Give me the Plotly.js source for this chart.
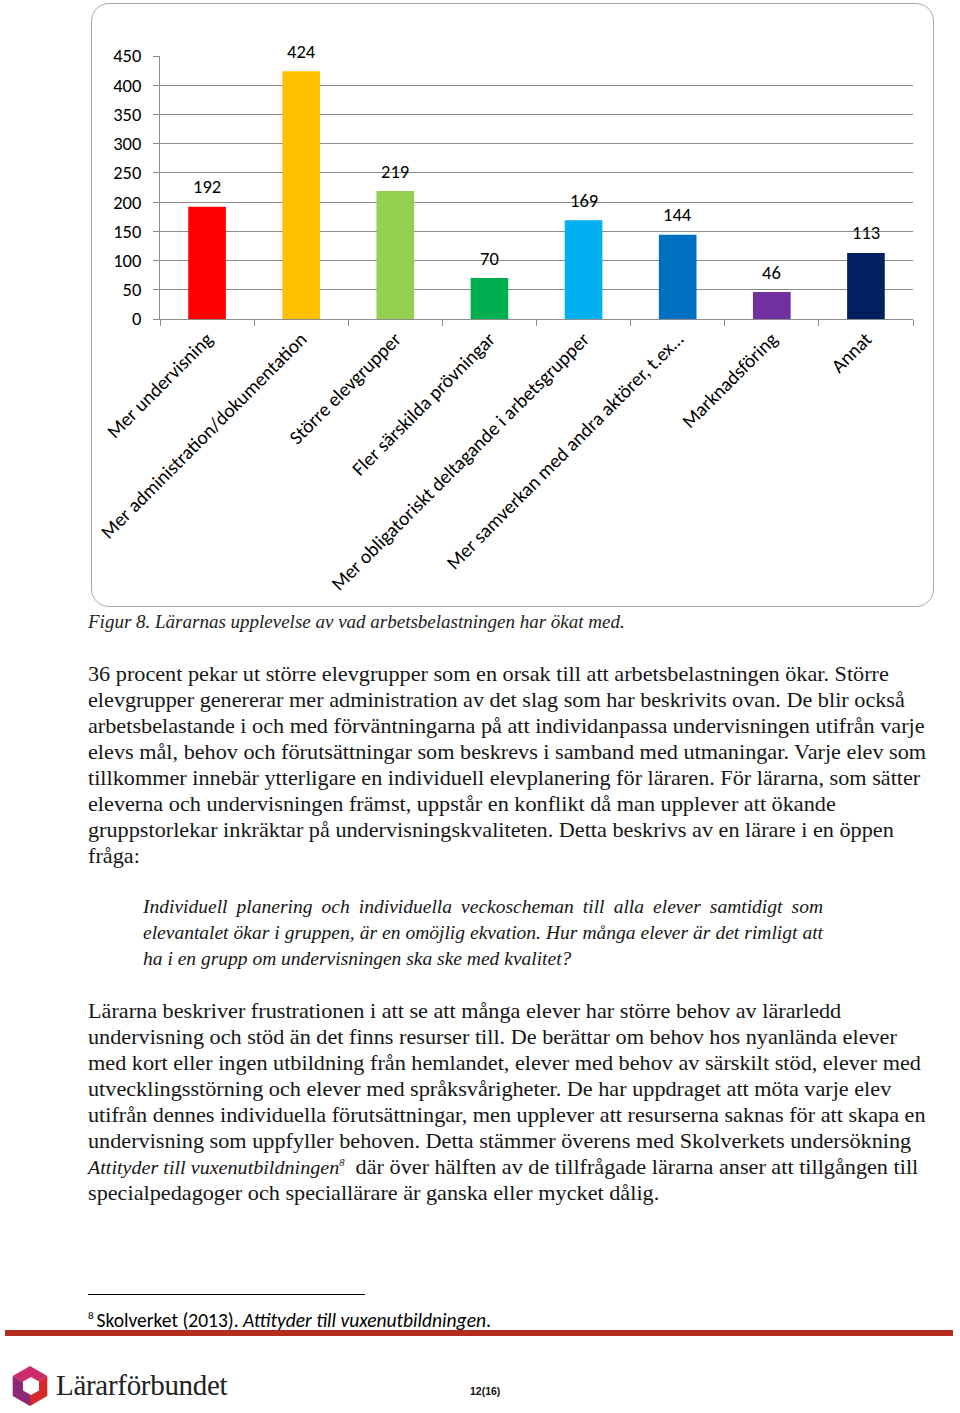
<!DOCTYPE html>
<html><head><meta charset="utf-8">
<script src="https://cdn.plot.ly/plotly-3.0.1.min.js"></script>
<style>
body{margin:0;width:960px;height:1413px;position:relative;background:#fff;overflow:hidden;}
#frame{position:absolute;left:91px;top:3px;width:841px;height:602px;border:1.6px solid #a8a8a8;border-radius:18px;}
#chart{position:absolute;left:91px;top:3px;width:844px;height:605px;}
.p{position:absolute;left:88px;font-family:"Liberation Serif",serif;font-size:21px;line-height:26px;color:#161616;white-space:nowrap;transform:scaleX(1.058);transform-origin:0 0;}
.p div{height:26px;overflow:visible;}
.cap{position:absolute;left:88px;top:609px;font-family:"Liberation Serif",serif;font-style:italic;font-size:19px;line-height:26px;color:#222;white-space:nowrap;}
.q{position:absolute;left:143px;top:894px;width:680px;font-family:"Liberation Serif",serif;font-style:italic;font-size:19.5px;line-height:26px;color:#161616;}
.q div{text-align:justify;text-align-last:justify;white-space:nowrap;}
.q div.last{text-align-last:left;}
#sep{position:absolute;left:88px;top:1294px;width:277px;height:1px;background:#000;}
#fn{position:absolute;left:88px;top:1309px;font-family:Carlito,Lato,sans-serif;font-size:19.5px;line-height:22px;color:#000;white-space:nowrap;}
#fn sup{font-size:11px;line-height:0;vertical-align:baseline;position:relative;top:-8px;margin-right:3px;}
#red{position:absolute;left:5px;top:1330px;width:948px;height:6px;background:#b52d20;}
#logotext{position:absolute;left:56px;top:1367px;font-family:"Liberation Serif",serif;font-size:29px;line-height:36px;color:#222;letter-spacing:-0.3px;}
#pg{position:absolute;left:470px;top:1385px;font-family:"Liberation Sans",Arial,sans-serif;font-weight:bold;font-size:10.5px;color:#111;}
</style></head>
<body>
<div id="frame"></div>
<div id="chart"></div>
<div class="cap">Figur 8. Lärarnas upplevelse av vad arbetsbelastningen har ökat med.</div>
<div class="p" style="top:661px">
<div>36 procent pekar ut större elevgrupper som en orsak till att arbetsbelastningen ökar. Större</div>
<div>elevgrupper genererar mer administration av det slag som har beskrivits ovan. De blir också</div>
<div>arbetsbelastande i och med förväntningarna på att individanpassa undervisningen utifrån varje</div>
<div>elevs mål, behov och förutsättningar som beskrevs i samband med utmaningar. Varje elev som</div>
<div>tillkommer innebär ytterligare en individuell elevplanering för läraren. För lärarna, som sätter</div>
<div>eleverna och undervisningen främst, uppstår en konflikt då man upplever att ökande</div>
<div>gruppstorlekar inkräktar på undervisningskvaliteten. Detta beskrivs av en lärare i en öppen</div>
<div>fråga:</div>
</div>
<div class="q">
<div>Individuell planering och individuella veckoscheman till alla elever samtidigt som</div>
<div>elevantalet ökar i gruppen, är en omöjlig ekvation. Hur många elever är det rimligt att</div>
<div class="last">ha i en grupp om undervisningen ska ske med kvalitet?</div>
</div>
<div class="p" style="top:998px">
<div>Lärarna beskriver frustrationen i att se att många elever har större behov av lärarledd</div>
<div>undervisning och stöd än det finns resurser till. De berättar om behov hos nyanlända elever</div>
<div>med kort eller ingen utbildning från hemlandet, elever med behov av särskilt stöd, elever med</div>
<div>utvecklingsstörning och elever med språksvårigheter. De har uppdraget att möta varje elev</div>
<div>utifrån dennes individuella förutsättningar, men upplever att resurserna saknas för att skapa en</div>
<div>undervisning som uppfyller behoven. Detta stämmer överens med Skolverkets undersökning</div>
<div><i style="font-size:19px">Attityder till vuxenutbildningen</i><span style="font-size:10px;line-height:0;font-style:italic;position:relative;top:-8px">8</span>&nbsp; där över hälften av de tillfrågade lärarna anser att tillgången till</div>
<div>specialpedagoger och speciallärare är ganska eller mycket dålig.</div>
</div>
<div id="sep"></div>
<div id="fn"><sup>8</sup>Skolverket (2013). <i>Attityder till vuxenutbildningen</i>.</div>
<div id="red"></div>
<svg style="position:absolute;left:0;top:1355px" width="60" height="58" viewBox="0 0 60 58">
  <polygon points="12.7,21 30,11 47.3,21 30,31" fill="#cf2a6c"/>
  <polygon points="47.3,21 47.3,41 30,51 30,31" fill="#d42a2e"/>
  <polygon points="12.7,21 30,31 30,51 12.7,41" fill="#8c2876"/>
  <polygon points="31,22 39,26.5 39,35.5 31,40 23,35.5 23,26.5" fill="#fff"/>
</svg>
<div id="logotext">Lärarförbundet</div>
<div id="pg">12(16)</div>
<script>
const categories = [
  "Mer undervisning",
  "Mer administration/dokumentation",
  "Större elevgrupper",
  "Fler särskilda prövningar",
  "Mer obligatoriskt deltagande i arbetsgrupper",
  "Mer samverkan med andra aktörer, t.ex…",
  "Marknadsföring",
  "Annat"
];
const values = [192, 424, 219, 70, 169, 144, 46, 113];
const barColors = ["#ff0000", "#ffc000", "#92d050", "#00b050", "#00b0f0", "#0070c0", "#7030a0", "#002060"];
const yTickVals = [0, 50, 100, 150, 200, 250, 300, 350, 400, 450];

const font = "Carlito, Lato, sans-serif";
const trace = {
  type: "bar",
  x: categories,
  y: values,
  marker: {color: barColors, line: {width: 0}},
  hoverinfo: "skip"
};
const annotations = categories.map((c, i) => ({
  x: c, y: values[i], xref: "x", yref: "y",
  text: String(values[i]), showarrow: false,
  yanchor: "middle", yshift: 20,
  font: {family: font, size: 18.5, color: "#000"}
}));
const layout = {
  width: 844, height: 605,
  margin: {l: 69, r: 22, t: 53, b: 289},
  paper_bgcolor: "rgba(0,0,0,0)", plot_bgcolor: "rgba(0,0,0,0)",
  showlegend: false,
  bargap: 0.6,
  xaxis: {
    type: "category", showgrid: false, showline: true, linecolor: "#8c8c8c", linewidth: 1,
    ticks: "outside", tickson: "boundaries", ticklen: 6, tickcolor: "#8c8c8c",
    tickangle: -45, tickfont: {family: font, size: 19.5, color: "#000"}, automargin: false
  },
  yaxis: {
    range: [0, 450], tickvals: yTickVals, showline: true, linecolor: "#8c8c8c", linewidth: 1,
    ticks: "outside", ticklen: 6, tickcolor: "#8c8c8c", gridcolor: "#8c8c8c", gridwidth: 1,
    zeroline: false, tickfont: {family: font, size: 18.5, color: "#000"}, ticklabelstandoff: 8,
    automargin: false
  },
  annotations: annotations
};
Plotly.newPlot("chart", [trace], layout, {displayModeBar: false, staticPlot: true});
</script>
</body></html>
